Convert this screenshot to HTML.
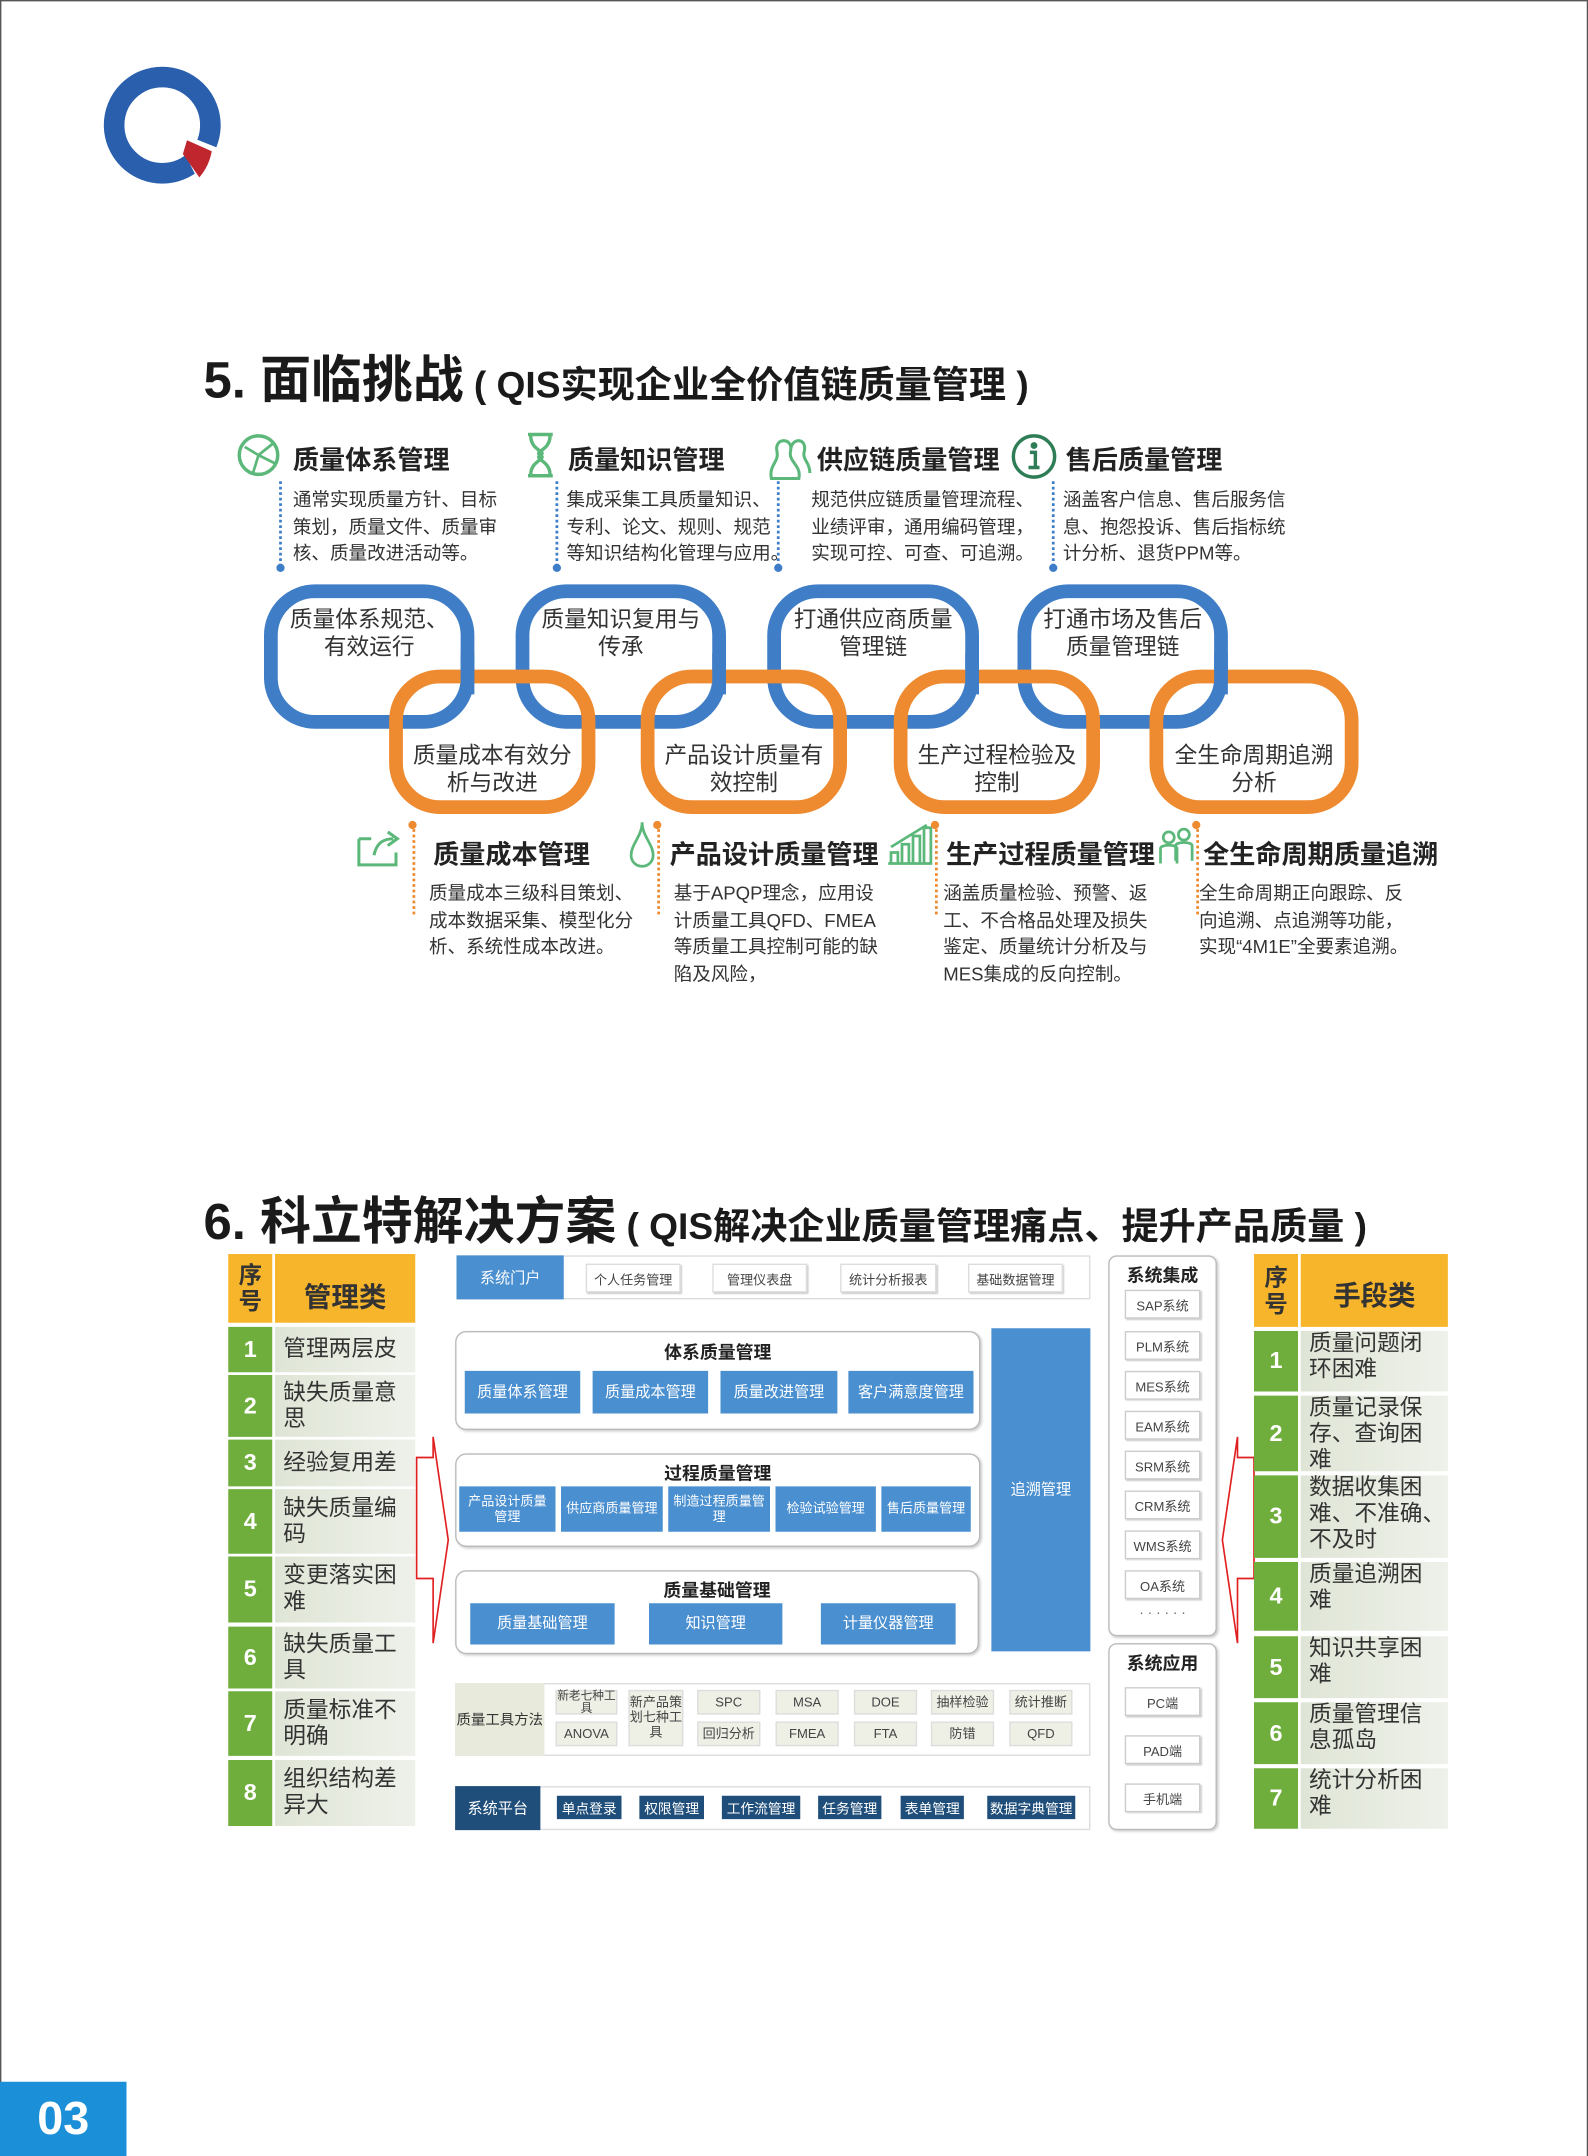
<!DOCTYPE html>
<html><head><meta charset="utf-8">
<style>
*{margin:0;padding:0;box-sizing:border-box}
html,body{width:1588px;height:2156px;overflow:hidden;background:#fff}
#w{position:absolute;left:0;top:0;width:1155px;height:1568px;transform:scale(1.375);transform-origin:0 0;font-family:"Liberation Sans","Noto Sans CJK SC",sans-serif;color:#333}
.a{position:absolute}
.h{position:absolute;font-weight:bold;font-size:19px;color:#222;white-space:nowrap}
.d{position:absolute;font-size:13.5px;line-height:19.5px;color:#333;white-space:nowrap}
.vl{position:absolute;width:0;border-left:2px dotted}
.dot{position:absolute;width:6px;height:6px;border-radius:3px}
.rt{position:absolute;text-align:center;font-size:16.5px;line-height:20px;color:#333}
.bb{position:absolute;background:#4a8fd0;color:#fff;font-size:11px;display:flex;align-items:center;justify-content:center;text-align:center;line-height:12px}
.sm{font-size:9.5px;line-height:11px}
.wb{position:absolute;border:1px solid #ddd;background:#fff;font-size:9.5px;color:#444;display:flex;align-items:center;justify-content:center;box-shadow:1px 1px 1px #ccc}
.grp{position:absolute;border:1px solid #bbb;border-radius:8px;background:#fff;box-shadow:1px 1px 2px #ccc}
.gt{position:absolute;font-weight:bold;font-size:13px;color:#222;width:100%;text-align:center}
.tb{position:absolute;background:#eef0e6;border:1px solid #ddd;font-size:9.5px;color:#444;display:flex;align-items:center;justify-content:center;text-align:center;line-height:11px}
.pb{position:absolute;background:#1f4e7a;color:#fff;font-size:10px;display:flex;align-items:center;justify-content:center}
.num{position:absolute;background:#6fae3c;color:#fff;font-weight:bold;font-size:17px;display:flex;align-items:center;justify-content:center}
.txt{position:absolute;background:linear-gradient(90deg,#dfe5d6,#eef1ea);font-size:16.5px;line-height:19px;color:#333;padding-left:6px;display:flex;align-items:center}
.ii{position:absolute;border:1px solid #ccc;background:#fff;font-size:9.5px;color:#444;display:flex;align-items:center;justify-content:center;box-shadow:1px 1px 1px #ccc}
</style></head><body>
<div id="w">
<div class="a" style="left:0;top:0;width:1155px;height:1568px;border:1px solid #555;border-bottom:none"></div>
<svg class="a" style="left:70px;top:45px" width="100" height="100" viewBox="0 0 100 100">
<circle cx="48" cy="46" r="35" fill="none" stroke="#2a5fae" stroke-width="15"/>
<path d="M62,52 L92,64 A43,43 0 0 1 75,88 L66,70 Z" fill="#fff"/>
<path d="M66,57 L84,65 A40,40 0 0 1 75,84 L63,67 Z" fill="#c0262d"/>
</svg>

<div class="a" style="left:148px;top:246px;font-size:37px;font-weight:bold;color:#1a1a1a;white-space:nowrap">5. 面临挑战<span style="font-size:27px"> ( QIS实现企业全价值链质量管理 )</span></div>

<svg class="a" style="left:170px;top:313px" width="36" height="36"><circle cx="18" cy="18" r="14" fill="none" stroke="#5cb87a" stroke-width="2.5"/><path d="M8,12 L18,18 L28,10 M18,18 L14,31 M18,18 L30,24" stroke="#5cb87a" stroke-width="2" fill="none"/></svg>
<div class="h" style="left:213px;top:320px">质量体系管理</div>
<svg class="a" style="left:380px;top:313px" width="28" height="36"><path d="M4,3 H22 M4,33 H22 M6,4 C6,15 18,15 13,18 C8,21 20,22 20,32 M20,4 C20,15 8,15 13,18 C18,21 6,22 6,32" stroke="#5cb87a" stroke-width="2.5" fill="none"/></svg>
<div class="h" style="left:413px;top:320px">质量知识管理</div>
<svg class="a" style="left:553px;top:312px" width="38" height="38"><path d="M8,36 C6,26 14,24 12,16 C10,6 24,6 22,16 C20,24 30,26 28,36 Z M22,16 C22,6 34,6 32,16 C30,22 36,24 36,32" stroke="#5cb87a" stroke-width="2.2" fill="none"/></svg>
<div class="h" style="left:594px;top:320px">供应链质量管理</div>
<svg class="a" style="left:734px;top:313px" width="38" height="38"><circle cx="18" cy="19" r="15" fill="none" stroke="#2f7d57" stroke-width="2.5"/><circle cx="18" cy="11" r="2.5" fill="#2f7d57"/><path d="M15,16 H19 V27 H22 M14,27 H22" stroke="#2f7d57" stroke-width="2.5" fill="none"/></svg>
<div class="h" style="left:775px;top:320px">售后质量管理</div>

<div class="vl" style="left:203px;top:350px;height:62px;border-color:#3e7ec9"></div><div class="dot" style="left:201px;top:410px;background:#3e7ec9"></div>
<div class="vl" style="left:404px;top:350px;height:62px;border-color:#3e7ec9"></div><div class="dot" style="left:402px;top:410px;background:#3e7ec9"></div>
<div class="vl" style="left:565px;top:350px;height:62px;border-color:#3e7ec9"></div><div class="dot" style="left:563px;top:410px;background:#3e7ec9"></div>
<div class="vl" style="left:765px;top:350px;height:62px;border-color:#3e7ec9"></div><div class="dot" style="left:763px;top:410px;background:#3e7ec9"></div>

<div class="d" style="left:213px;top:354px">通常实现质量方针、目标<br>策划，质量文件、质量审<br>核、质量改进活动等。</div>
<div class="d" style="left:412px;top:354px">集成采集工具质量知识、<br>专利、论文、规则、规范<br>等知识结构化管理与应用。</div>
<div class="d" style="left:590px;top:354px">规范供应链质量管理流程、<br>业绩评审，通用编码管理，<br>实现可控、可查、可追溯。</div>
<div class="d" style="left:773px;top:354px">涵盖客户信息、售后服务信<br>息、抱怨投诉、售后指标统<br>计分析、退货PPM等。</div>

<svg class="a" style="left:0;top:0" width="1155" height="700">
<g fill="none" stroke-width="10">
<rect x="197" y="430" width="143" height="95" rx="32" stroke="#3f7dc6"/>
<rect x="380" y="430" width="143" height="95" rx="32" stroke="#3f7dc6"/>
<rect x="563" y="430" width="144" height="95" rx="32" stroke="#3f7dc6"/>
<rect x="745" y="430" width="143" height="95" rx="32" stroke="#3f7dc6"/>
<rect x="288" y="492" width="140" height="95" rx="32" stroke="#ee8a2f"/>
<rect x="471" y="492" width="140" height="95" rx="32" stroke="#ee8a2f"/>
<rect x="655" y="492" width="140" height="95" rx="32" stroke="#ee8a2f"/>
<rect x="841" y="492" width="142" height="95" rx="32" stroke="#ee8a2f"/>
<path d="M340,475 V505" stroke="#3f7dc6"/>
<path d="M523,475 V505" stroke="#3f7dc6"/>
<path d="M707,475 V505" stroke="#3f7dc6"/>
<path d="M888,475 V505" stroke="#3f7dc6"/>
</g>
</svg>
<div class="rt" style="left:197px;top:441px;width:143px">质量体系规范、<br>有效运行</div>
<div class="rt" style="left:380px;top:441px;width:143px">质量知识复用与<br>传承</div>
<div class="rt" style="left:563px;top:441px;width:144px">打通供应商质量<br>管理链</div>
<div class="rt" style="left:745px;top:441px;width:143px">打通市场及售后<br>质量管理链</div>
<div class="rt" style="left:288px;top:540px;width:140px">质量成本有效分<br>析与改进</div>
<div class="rt" style="left:471px;top:540px;width:140px">产品设计质量有<br>效控制</div>
<div class="rt" style="left:655px;top:540px;width:140px">生产过程检验及<br>控制</div>
<div class="rt" style="left:841px;top:540px;width:142px">全生命周期追溯<br>分析</div>

<svg class="a" style="left:258px;top:600px" width="36" height="32"><path d="M3,10 V29 H30 V20 M3,10 H12 M14,22 C16,12 22,10 28,10 M24,5 L31,10 L24,15" stroke="#5cb87a" stroke-width="2.2" fill="none"/></svg>
<div class="h" style="left:315px;top:607px">质量成本管理</div>
<svg class="a" style="left:456px;top:596px" width="22" height="36"><path d="M11,2 C11,12 3,18 3,26 C3,31 7,34 11,34 C15,34 19,31 19,26 C19,18 11,12 11,2 Z" stroke="#5cb87a" stroke-width="2" fill="none"/></svg>
<div class="h" style="left:487px;top:607px">产品设计质量管理</div>
<svg class="a" style="left:644px;top:598px" width="36" height="32"><path d="M4,30 V22 H9 V30 M12,30 V16 H17 V30 M20,30 V10 H25 V30 M28,30 V4 H33 V30 M2,30 H34 M4,18 L30,2" stroke="#5cb87a" stroke-width="2" fill="none"/></svg>
<div class="h" style="left:688px;top:607px">生产过程质量管理</div>
<svg class="a" style="left:841px;top:600px" width="30" height="30"><circle cx="9" cy="9" r="4" fill="none" stroke="#5cb87a" stroke-width="2"/><circle cx="20" cy="7" r="4" fill="none" stroke="#5cb87a" stroke-width="2"/><path d="M3,28 V17 C3,14 15,14 15,17 V28 M14,26 V15 C14,12 26,12 26,15 V26" stroke="#5cb87a" stroke-width="2" fill="none"/></svg>
<div class="h" style="left:875px;top:607px">全生命周期质量追溯</div>

<div class="dot" style="left:297px;top:597px;background:#ee8a2f"></div><div class="vl" style="left:300px;top:600px;height:65px;border-color:#ee8a2f"></div>
<div class="dot" style="left:475px;top:597px;background:#ee8a2f"></div><div class="vl" style="left:478px;top:600px;height:65px;border-color:#ee8a2f"></div>
<div class="dot" style="left:677px;top:597px;background:#ee8a2f"></div><div class="vl" style="left:680px;top:600px;height:65px;border-color:#ee8a2f"></div>
<div class="dot" style="left:867px;top:597px;background:#ee8a2f"></div><div class="vl" style="left:870px;top:600px;height:65px;border-color:#ee8a2f"></div>

<div class="d" style="left:312px;top:640px">质量成本三级科目策划、<br>成本数据采集、模型化分<br>析、系统性成本改进。</div>
<div class="d" style="left:490px;top:640px">基于APQP理念，应用设<br>计质量工具QFD、FMEA<br>等质量工具控制可能的缺<br>陷及风险，</div>
<div class="d" style="left:686px;top:640px">涵盖质量检验、预警、返<br>工、不合格品处理及损失<br>鉴定、质量统计分析及与<br>MES集成的反向控制。</div>
<div class="d" style="left:872px;top:640px">全生命周期正向跟踪、反<br>向追溯、点追溯等功能，<br>实现“4M1E”全要素追溯。</div>

<div class="a" style="left:148px;top:858px;font-size:37px;font-weight:bold;color:#1a1a1a;white-space:nowrap">6. 科立特解决方案<span style="font-size:27px"> ( QIS解决企业质量管理痛点、提升产品质量 )</span></div>

<div class="a" style="left:166px;top:912px;width:32px;height:50px;background:#f7b52b;font-weight:bold;font-size:17px;line-height:19px;text-align:center;padding-top:6px">序<br>号</div>
<div class="a" style="left:200px;top:912px;width:102px;height:50px;background:#f7b52b;font-weight:bold;font-size:20px;display:flex;align-items:center;justify-content:center;padding-top:8px">管理类</div>
<div class="num" style="left:166px;top:965px;width:32px;height:33px">1</div><div class="txt" style="left:200px;top:965px;width:102px;height:33px">管理两层皮</div>
<div class="num" style="left:166px;top:1000px;width:32px;height:45px">2</div><div class="txt" style="left:200px;top:1000px;width:102px;height:45px">缺失质量意<br>思</div>
<div class="num" style="left:166px;top:1047px;width:32px;height:34px">3</div><div class="txt" style="left:200px;top:1047px;width:102px;height:34px">经验复用差</div>
<div class="num" style="left:166px;top:1083px;width:32px;height:47px">4</div><div class="txt" style="left:200px;top:1083px;width:102px;height:47px">缺失质量编<br>码</div>
<div class="num" style="left:166px;top:1132px;width:32px;height:48px">5</div><div class="txt" style="left:200px;top:1132px;width:102px;height:48px">变更落实困<br>难</div>
<div class="num" style="left:166px;top:1183px;width:32px;height:45px">6</div><div class="txt" style="left:200px;top:1183px;width:102px;height:45px">缺失质量工<br>具</div>
<div class="num" style="left:166px;top:1230px;width:32px;height:47px">7</div><div class="txt" style="left:200px;top:1230px;width:102px;height:47px">质量标准不<br>明确</div>
<div class="num" style="left:166px;top:1280px;width:32px;height:48px">8</div><div class="txt" style="left:200px;top:1280px;width:102px;height:48px">组织结构差<br>异大</div>

<svg class="a" style="left:0;top:0" width="1155" height="1400">
<polygon points="303,1060 315,1060 315,1045 326,1120 315,1195 315,1148 303,1148" fill="none" stroke="#e02020" stroke-width="1.2"/>
<polygon points="912,1060 900,1060 900,1045 889,1120 900,1195 900,1148 912,1148" fill="none" stroke="#e02020" stroke-width="1.2"/>
</svg>

<div class="a" style="left:332px;top:913px;width:461px;height:32px;border:1px solid #ddd;background:#fff"></div>
<div class="a" style="left:332px;top:913px;width:78px;height:32px;background:#4a8fd0;color:#fff;font-size:11px;display:flex;align-items:center;justify-content:center">系统门户</div>
<div class="wb" style="left:426px;top:919px;width:69px;height:21px">个人任务管理</div>
<div class="wb" style="left:518px;top:919px;width:69px;height:21px">管理仪表盘</div>
<div class="wb" style="left:611px;top:919px;width:70px;height:21px">统计分析报表</div>
<div class="wb" style="left:704px;top:919px;width:69px;height:21px">基础数据管理</div>

<div class="grp" style="left:331px;top:968px;width:382px;height:72px"><div class="gt" style="top:4px">体系质量管理</div></div>
<div class="bb" style="left:338px;top:997px;width:84px;height:31px">质量体系管理</div>
<div class="bb" style="left:431px;top:997px;width:84px;height:31px">质量成本管理</div>
<div class="bb" style="left:524px;top:997px;width:85px;height:31px">质量改进管理</div>
<div class="bb" style="left:617px;top:997px;width:91px;height:31px">客户满意度管理</div>

<div class="grp" style="left:331px;top:1057px;width:382px;height:68px"><div class="gt" style="top:3px">过程质量管理</div></div>
<div class="bb sm" style="left:334px;top:1081px;width:70px;height:33px">产品设计质量<br>管理</div>
<div class="bb sm" style="left:408px;top:1081px;width:74px;height:33px">供应商质量管理</div>
<div class="bb sm" style="left:486px;top:1081px;width:74px;height:33px">制造过程质量管<br>理</div>
<div class="bb sm" style="left:564px;top:1081px;width:73px;height:33px">检验试验管理</div>
<div class="bb sm" style="left:641px;top:1081px;width:65px;height:33px">售后质量管理</div>

<div class="grp" style="left:331px;top:1142px;width:381px;height:61px"><div class="gt" style="top:3px">质量基础管理</div></div>
<div class="bb" style="left:342px;top:1166px;width:105px;height:30px">质量基础管理</div>
<div class="bb" style="left:472px;top:1166px;width:97px;height:30px">知识管理</div>
<div class="bb" style="left:597px;top:1166px;width:98px;height:30px">计量仪器管理</div>

<div class="bb" style="left:721px;top:966px;width:72px;height:235px">追溯管理</div>

<div class="a" style="left:331px;top:1224px;width:462px;height:53px;border:1px solid #ddd;background:#fff"></div>
<div class="a" style="left:331px;top:1224px;width:65px;height:53px;background:#e8ebdc;font-size:10.5px;display:flex;align-items:center;justify-content:center">质量工具方法</div>
<div class="tb" style="left:404px;top:1229px;width:45px;height:18px;font-size:8.5px;line-height:9px">新老七种工<br>具</div>
<div class="tb" style="left:404px;top:1252px;width:45px;height:18px">ANOVA</div>
<div class="tb" style="left:457px;top:1229px;width:40px;height:41px">新产品策<br>划七种工<br>具</div>
<div class="tb" style="left:507px;top:1229px;width:46px;height:18px">SPC</div><div class="tb" style="left:507px;top:1252px;width:46px;height:18px">回归分析</div>
<div class="tb" style="left:564px;top:1229px;width:46px;height:18px">MSA</div><div class="tb" style="left:564px;top:1252px;width:46px;height:18px">FMEA</div>
<div class="tb" style="left:621px;top:1229px;width:46px;height:18px">DOE</div><div class="tb" style="left:621px;top:1252px;width:46px;height:18px">FTA</div>
<div class="tb" style="left:677px;top:1229px;width:46px;height:18px">抽样检验</div><div class="tb" style="left:677px;top:1252px;width:46px;height:18px">防错</div>
<div class="tb" style="left:734px;top:1229px;width:46px;height:18px">统计推断</div><div class="tb" style="left:734px;top:1252px;width:46px;height:18px">QFD</div>

<div class="a" style="left:331px;top:1299px;width:462px;height:32px;border:1px solid #ddd;background:#fff"></div>
<div class="a" style="left:331px;top:1299px;width:62px;height:32px;background:#1f4e7a;color:#fff;font-size:11px;display:flex;align-items:center;justify-content:center">系统平台</div>
<div class="pb" style="left:405px;top:1306px;width:47px;height:17px">单点登录</div>
<div class="pb" style="left:465px;top:1306px;width:47px;height:17px">权限管理</div>
<div class="pb" style="left:525px;top:1306px;width:57px;height:17px">工作流管理</div>
<div class="pb" style="left:595px;top:1306px;width:46px;height:17px">任务管理</div>
<div class="pb" style="left:655px;top:1306px;width:46px;height:17px">表单管理</div>
<div class="pb" style="left:718px;top:1306px;width:64px;height:17px">数据字典管理</div>

<div class="grp" style="left:806px;top:913px;width:79px;height:277px;border-radius:6px"><div class="gt" style="top:3px">系统集成</div></div>
<div class="ii" style="left:818px;top:938px;width:55px;height:21px">SAP系统</div>
<div class="ii" style="left:818px;top:968px;width:55px;height:21px">PLM系统</div>
<div class="ii" style="left:818px;top:997px;width:55px;height:21px">MES系统</div>
<div class="ii" style="left:818px;top:1026px;width:55px;height:21px">EAM系统</div>
<div class="ii" style="left:818px;top:1055px;width:55px;height:21px">SRM系统</div>
<div class="ii" style="left:818px;top:1084px;width:55px;height:21px">CRM系统</div>
<div class="ii" style="left:818px;top:1113px;width:55px;height:21px">WMS系统</div>
<div class="ii" style="left:818px;top:1142px;width:55px;height:21px">OA系统</div>
<div class="a" style="left:806px;top:1168px;width:79px;text-align:center;font-size:10px;color:#666">· · · · · ·</div>
<div class="grp" style="left:806px;top:1195px;width:79px;height:136px;border-radius:6px"><div class="gt" style="top:3px">系统应用</div></div>
<div class="ii" style="left:818px;top:1227px;width:55px;height:21px">PC端</div>
<div class="ii" style="left:818px;top:1262px;width:55px;height:21px">PAD端</div>
<div class="ii" style="left:818px;top:1297px;width:55px;height:21px">手机端</div>

<div class="a" style="left:912px;top:912px;width:32px;height:53px;background:#f7b52b;font-weight:bold;font-size:17px;line-height:19px;text-align:center;padding-top:8px">序<br>号</div>
<div class="a" style="left:946px;top:912px;width:107px;height:53px;background:#f7b52b;font-weight:bold;font-size:20px;display:flex;align-items:center;justify-content:center;padding-top:4px">手段类</div>
<div class="num" style="left:912px;top:968px;width:32px;height:44px">1</div><div class="txt" style="left:946px;top:968px;width:107px;height:44px;align-items:flex-start">质量问题闭<br>环困难</div>
<div class="num" style="left:912px;top:1015px;width:32px;height:55px">2</div><div class="txt" style="left:946px;top:1015px;width:107px;height:55px;align-items:flex-start">质量记录保<br>存、查询困<br>难</div>
<div class="num" style="left:912px;top:1073px;width:32px;height:60px">3</div><div class="txt" style="left:946px;top:1073px;width:107px;height:60px;align-items:flex-start">数据收集困<br>难、不准确、<br>不及时</div>
<div class="num" style="left:912px;top:1136px;width:32px;height:50px">4</div><div class="txt" style="left:946px;top:1136px;width:107px;height:50px;align-items:flex-start">质量追溯困<br>难</div>
<div class="num" style="left:912px;top:1190px;width:32px;height:45px">5</div><div class="txt" style="left:946px;top:1190px;width:107px;height:45px;align-items:flex-start">知识共享困<br>难</div>
<div class="num" style="left:912px;top:1238px;width:32px;height:45px">6</div><div class="txt" style="left:946px;top:1238px;width:107px;height:45px;align-items:flex-start">质量管理信<br>息孤岛</div>
<div class="num" style="left:912px;top:1286px;width:32px;height:44px">7</div><div class="txt" style="left:946px;top:1286px;width:107px;height:44px;align-items:flex-start">统计分析困<br>难</div>

<div class="a" style="left:0;top:1514px;width:92px;height:54px;background:#1b8fd8;color:#fff;font-weight:bold;font-size:34px;display:flex;align-items:center;justify-content:center">03</div>
</div>
</body></html>
